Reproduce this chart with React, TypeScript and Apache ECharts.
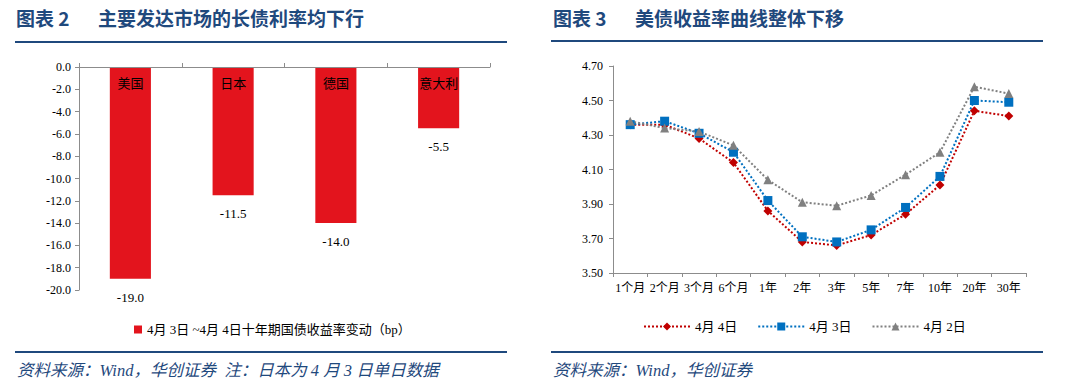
import React, { useEffect, useRef } from "react";
import * as echarts from "echarts";

// ---- Left chart data ----
const countries = ["美国", "日本", "德国", "意大利"];
const yieldChange = [-19.0, -11.5, -14.0, -5.5];
const barLegendName = "4月 3日 ~4月 4日十年期国债收益率变动（bp）";

// ---- Right chart data ----
const tenors = ["1个月", "2个月", "3个月", "6个月", "1年", "2年", "3年", "5年", "7年", "10年", "20年", "30年"];
const apr4 = [4.36, 4.36, 4.28, 4.14, 3.86, 3.68, 3.66, 3.72, 3.84, 4.01, 4.44, 4.41];
const apr3 = [4.36, 4.38, 4.31, 4.20, 3.92, 3.71, 3.68, 3.75, 3.88, 4.06, 4.50, 4.49];
const apr2 = [4.38, 4.34, 4.32, 4.24, 4.04, 3.91, 3.89, 3.95, 4.07, 4.20, 4.58, 4.54];
const lineNames = ["4月 4日", "4月 3日", "4月 2日"];

const titleLeftNo = "图表 2";
const titleLeft = "主要发达市场的长债利率均下行";
const titleRightNo = "图表 3";
const titleRight = "美债收益率曲线整体下移";
const sourceLeft = "资料来源：Wind，华创证券  注：日本为 4 月 3 日单日数据";
const sourceRight = "资料来源：Wind，华创证券";

const SERIF = "'Liberation Serif', 'Times New Roman', 'Noto Sans CJK SC', serif";
const CJK = "'Noto Sans CJK SC', sans-serif";
const NAVY = "#1F497D";
const AXIS = "#8C8C8C";

export default function App() {
  const ref = useRef<HTMLDivElement>(null);
  useEffect(() => {
    if (!ref.current) return;
    const chart = echarts.init(ref.current, null, { renderer: "svg" });
    const option: any = {
      animation: false,
      backgroundColor: "#ffffff",
      textStyle: { fontFamily: SERIF },
      graphic: [
        { type: "text", left: 16, top: 8, style: { text: titleLeftNo, font: `bold 19px ${CJK}`, fill: NAVY } },
        { type: "text", left: 98, top: 8, style: { text: titleLeft, font: `bold 19px ${CJK}`, fill: NAVY } },
        { type: "text", left: 553, top: 8, style: { text: titleRightNo, font: `bold 19px ${CJK}`, fill: NAVY } },
        { type: "text", left: 635, top: 8, style: { text: titleRight, font: `bold 19px ${CJK}`, fill: NAVY } },
        { type: "line", shape: { x1: 15, y1: 42, x2: 507, y2: 42 }, style: { stroke: NAVY, lineWidth: 2 } },
        { type: "line", shape: { x1: 551, y1: 41, x2: 1043, y2: 41 }, style: { stroke: NAVY, lineWidth: 2 } },
        { type: "line", shape: { x1: 15, y1: 352, x2: 507, y2: 352 }, style: { stroke: NAVY, lineWidth: 2 } },
        { type: "line", shape: { x1: 551, y1: 352, x2: 1043, y2: 352 }, style: { stroke: NAVY, lineWidth: 2 } },
        { type: "text", left: 17, top: 362, style: { text: sourceLeft, font: `italic 16.5px ${SERIF}`, fill: NAVY } },
        { type: "text", left: 553, top: 362, style: { text: sourceRight, font: `italic 16.5px ${SERIF}`, fill: NAVY } },
      ],
      grid: [
        { left: 79, top: 67, right: 590, bottom: 98, containLabel: false },
        { left: 613, top: 66, right: 54, bottom: 115, containLabel: false },
      ],
      legend: [
        {
          data: [barLegendName],
          left: 129,
          top: 318,
          itemWidth: 8,
          itemHeight: 8,
          itemGap: 10,
          textStyle: { fontFamily: SERIF, fontSize: 13, color: "#000" },
          icon: "rect",
        },
        {
          data: lineNames,
          left: 638,
          top: 315,
          itemWidth: 46,
          itemHeight: 10,
          itemGap: 20,
          textStyle: { fontFamily: SERIF, fontSize: 13, color: "#000" },
        },
      ],
      xAxis: [
        {
          gridIndex: 0,
          type: "category",
          position: "top",
          data: countries,
          z: 10,
          axisLine: { lineStyle: { color: AXIS } },
          axisTick: { show: true, length: 4, lineStyle: { color: AXIS } },
          axisLabel: { inside: true, margin: 10, fontSize: 13, color: "#000", fontFamily: SERIF },
        },
        {
          gridIndex: 1,
          type: "category",
          data: tenors,
          axisLine: { lineStyle: { color: AXIS } },
          axisTick: { show: true, length: 4, lineStyle: { color: AXIS } },
          axisLabel: { margin: 9, fontSize: 12, color: "#000", fontFamily: SERIF, interval: 0 },
        },
      ],
      yAxis: [
        {
          gridIndex: 0,
          type: "value",
          min: -20,
          max: 0,
          interval: 2,
          axisLine: { show: true, lineStyle: { color: AXIS } },
          axisTick: { show: true, length: 4, lineStyle: { color: AXIS } },
          splitLine: { show: false },
          axisLabel: { margin: 8, fontSize: 12, color: "#000", fontFamily: SERIF, formatter: (v: number) => v.toFixed(1) },
        },
        {
          gridIndex: 1,
          type: "value",
          min: 3.5,
          max: 4.7,
          interval: 0.2,
          axisLine: { show: true, lineStyle: { color: AXIS } },
          axisTick: { show: true, length: 4, lineStyle: { color: AXIS } },
          splitLine: { show: false },
          axisLabel: { margin: 10, fontSize: 12, color: "#000", fontFamily: SERIF, formatter: (v: number) => v.toFixed(2) },
        },
      ],
      series: [
        {
          name: barLegendName,
          type: "bar",
          xAxisIndex: 0,
          yAxisIndex: 0,
          data: yieldChange,
          barWidth: "40%",
          itemStyle: { color: "#E3141D" },
          label: {
            show: true,
            position: "bottom",
            distance: 12,
            fontSize: 13,
            color: "#000",
            fontFamily: SERIF,
            formatter: (p: any) => Number(p.value).toFixed(1),
          },
        },
        {
          name: lineNames[0],
          type: "line",
          xAxisIndex: 1,
          yAxisIndex: 1,
          data: apr4,
          symbol: "diamond",
          symbolSize: 9,
          itemStyle: { color: "#C00000" },
          lineStyle: { color: "#C00000", width: 2, type: "dotted" },
        },
        {
          name: lineNames[1],
          type: "line",
          xAxisIndex: 1,
          yAxisIndex: 1,
          data: apr3,
          symbol: "rect",
          symbolSize: 9,
          itemStyle: { color: "#0070C0" },
          lineStyle: { color: "#0070C0", width: 2, type: "dotted" },
        },
        {
          name: lineNames[2],
          type: "line",
          xAxisIndex: 1,
          yAxisIndex: 1,
          data: apr2,
          symbol: "triangle",
          symbolSize: 9,
          itemStyle: { color: "#808080" },
          lineStyle: { color: "#808080", width: 2, type: "dotted" },
        },
      ],
    };
    chart.setOption(option);
    return () => chart.dispose();
  }, []);
  return (
    <div
      ref={ref}
      style={{ position: "fixed", left: 0, top: 0, width: 1080, height: 388, background: "#fff" }}
    />
  );
}
